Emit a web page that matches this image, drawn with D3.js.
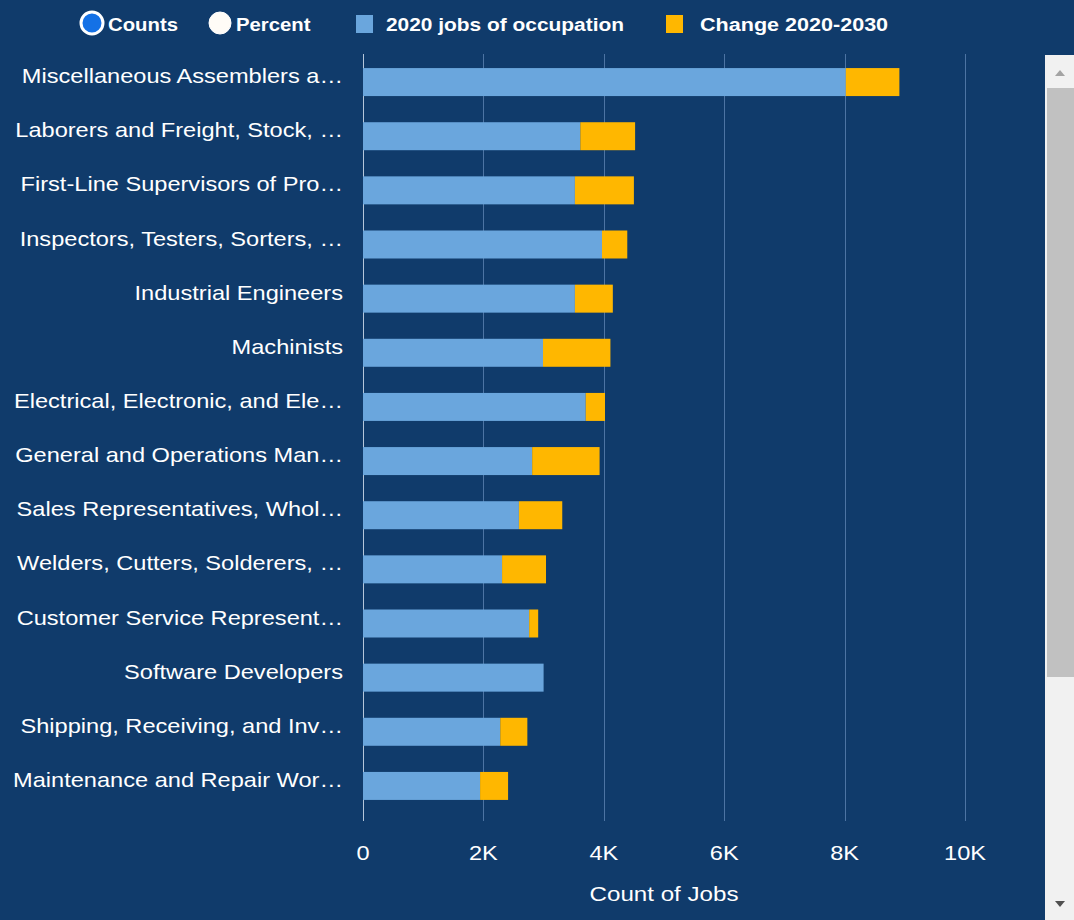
<!DOCTYPE html>
<html>
<head>
<meta charset="utf-8">
<script src="https://cdn.jsdelivr.net/npm/d3@7"></script>
<style>
  html, body { margin: 0; padding: 0; background: #103b6b; overflow: hidden; }
  svg { display: block; }
  text { font-family: "Liberation Sans", Arial, sans-serif; fill: #ffffff; }
</style>
</head>
<body>
<script>
// ---- data ----
const categories = [
  "Miscellaneous Assemblers a…",
  "Laborers and Freight, Stock, …",
  "First-Line Supervisors of Pro…",
  "Inspectors, Testers, Sorters, …",
  "Industrial Engineers",
  "Machinists",
  "Electrical, Electronic, and Ele…",
  "General and Operations Man…",
  "Sales Representatives, Whol…",
  "Welders, Cutters, Solderers, …",
  "Customer Service Represent…",
  "Software Developers",
  "Shipping, Receiving, and Inv…",
  "Maintenance and Repair Wor…"
];
const jobs2020 = [8020, 3610, 3520, 3970, 3520, 2990, 3700, 2810, 2590, 2310, 2760, 3000, 2280, 1945];
const change2020_2030 = [890, 910, 980, 420, 630, 1120, 320, 1120, 720, 730, 150, 0, 450, 465];
const seriesNames = ["2020 jobs of occupation", "Change 2020-2030"];
const seriesColors = ["#6aa6dd", "#ffb700"];
const xTicks = [0, 2000, 4000, 6000, 8000, 10000];
const xTickLabels = ["0", "2K", "4K", "6K", "8K", "10K"];
const radioLabels = ["Counts", "Percent"];
const xTitle = "Count of Jobs";

// ---- build ----
const W = 1074, H = 920;
const svg = d3.select("body").append("svg").attr("width", W).attr("height", H);
svg.append("rect").attr("width", W).attr("height", H).attr("fill", "#103b6b");

const rows = categories.map((c, i) => ({ cat: c, base: jobs2020[i], chg: change2020_2030[i] }));
const stack = d3.stack().keys(["base", "chg"]);
const stacked = stack(rows);

const x = d3.scaleLinear().domain([0, 10000]).range([363, 965]);
const y = d3.scaleBand().domain(categories).range([55, 813]).paddingInner(0.483).paddingOuter(0.2415);

// gridlines
const gTop = 54, gBot = 821;
svg.append("g").selectAll("line").data(xTicks).join("line")
  .attr("x1", d => Math.round(x(d)) + 0.5).attr("x2", d => Math.round(x(d)) + 0.5)
  .attr("y1", gTop).attr("y2", gBot)
  .attr("stroke", d => d === 0 ? "#b5c6da" : "#4d74a3").attr("stroke-width", 1);

// bars
svg.append("g").selectAll("g").data(stacked).join("g")
  .attr("fill", (d, i) => seriesColors[i])
  .selectAll("rect").data(d => d).join("rect")
  .attr("x", d => x(d[0]))
  .attr("width", d => Math.max(0, x(d[1]) - x(d[0])))
  .attr("y", d => y(d.data.cat))
  .attr("height", y.bandwidth());

// y labels
const sx = 1.18;
svg.append("g").selectAll("text").data(categories).join("text")
  .attr("transform", d => `translate(343,${y(d) + y.bandwidth() / 2 + 1}) scale(${sx},1)`)
  .attr("text-anchor", "end")
  .attr("font-size", 20)
  .text(d => d);

// x tick labels
svg.append("g").selectAll("text").data(xTicks).join("text")
  .attr("transform", d => `translate(${x(d)},860) scale(1.15,1)`)
  .attr("text-anchor", "middle")
  .attr("font-size", 20.5)
  .text((d, i) => xTickLabels[i]);

// axis title
svg.append("text")
  .attr("transform", `translate(${(x(0) + x(10000)) / 2},901) scale(1.15,1)`)
  .attr("text-anchor", "middle")
  .attr("font-size", 21)
  .text(xTitle);

// legend: radio buttons
const radios = [{ cx: 92, tx: 108, on: true }, { cx: 220, tx: 236, on: false }];
const lg = svg.append("g");
radios.forEach((r, i) => {
  lg.append("circle").attr("cx", r.cx).attr("cy", 23).attr("r", 11)
    .attr("fill", r.on ? "#1471e6" : "#fffcf7")
    .attr("stroke", "#ffffff").attr("stroke-width", r.on ? 3 : 1);
  lg.append("text").attr("transform", `translate(${r.tx},31) scale(1.07,1)`)
    .attr("font-size", 19).attr("font-weight", "bold").text(radioLabels[i]);
});
// legend: series
const sItems = [{ rx: 356, tx: 386, s: 1.1 }, { rx: 666, tx: 700, s: 1.135 }];
sItems.forEach((s, i) => {
  lg.append("rect").attr("x", s.rx).attr("y", 15).attr("width", 17).attr("height", 18).attr("fill", seriesColors[i]);
  lg.append("text").attr("transform", `translate(${s.tx},31) scale(${s.s},1)`)
    .attr("font-size", 19).attr("font-weight", "bold").text(seriesNames[i]);
});

// scrollbar decoration
const sb = svg.append("g");
sb.append("rect").attr("x", 1045).attr("y", 55).attr("width", 29).attr("height", 865).attr("fill", "#f1f1f1");
sb.append("rect").attr("x", 1047).attr("y", 88).attr("width", 27).attr("height", 589).attr("fill", "#c1c1c1");
sb.append("path").attr("d", "M1055,76 L1060,70 L1065,76 Z").attr("fill", "#a3a3a3");
sb.append("path").attr("d", "M1055,901 L1060,907 L1065,901 Z").attr("fill", "#505050");
</script>
</body>
</html>
